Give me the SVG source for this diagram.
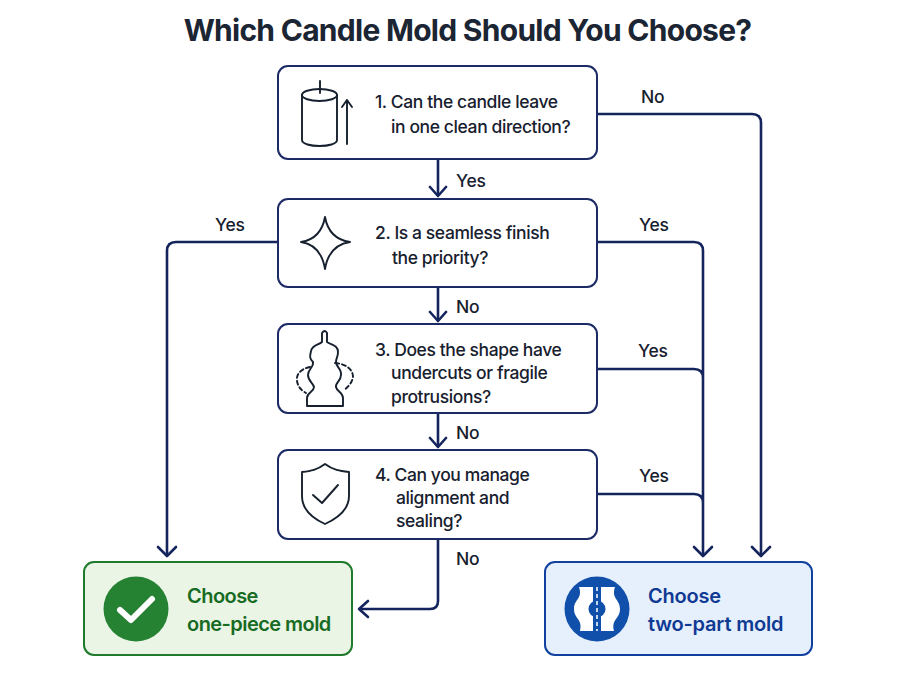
<svg xmlns="http://www.w3.org/2000/svg" width="900" height="675" viewBox="0 0 900 675">
<style>
text{font-family:Inter,"Liberation Sans",sans-serif;font-weight:500;fill:#17202e;font-size:17.500px;letter-spacing:-.4px}
.title{font-size:30px;font-weight:700;fill:#1b2533;letter-spacing:-.72px}
.lab{letter-spacing:-.2px}
.box{fill:#fff;stroke:#1c2a66;stroke-width:2}
.ic{fill:none;stroke:#17202e;stroke-width:1.900;stroke-linejoin:round;stroke-linecap:round}
.wire{fill:none;stroke:#14245c;stroke-width:2.600;stroke-linejoin:round}
.head{fill:none;stroke:#14245c;stroke-width:2.600;stroke-linecap:round;stroke-linejoin:round}
.g{font-size:20px;font-weight:600;fill:#176b22;letter-spacing:-.55px}
.b{font-size:20px;font-weight:600;fill:#0f3a94;letter-spacing:-.2px}
</style>
<rect width="900" height="675" fill="#fff"/>
<text class="title" x="467.500" y="41" text-anchor="middle">Which Candle Mold Should You Choose?</text>
<g id="connectors">
<path class="wire" d="M438 159V195M438 287V320M438 414V446"/>
<path class="head" d="M430 187L438 196L446 187M430 312L438 321L446 312M430 438L438 447L446 438"/>
<path class="wire" d="M598 114H752Q761 114 761 123V555"/>
<path class="head" d="M752 547L761 556L770 547"/>
<path class="wire" d="M598 242H694Q703 242 703 251V555M598 369H694Q703 369 703 378M598 494H694Q703 494 703 503"/>
<path class="head" d="M694 547L703 556L712 547"/>
<path class="wire" d="M277 242H176Q167 242 167 251V555"/>
<path class="head" d="M158 547L167 556L176 547"/>
<path class="wire" d="M438 540V601Q438 609 430 609H360"/>
<path class="head" d="M368 601L359 609L368 617"/>
</g>
<g id="edge-labels">
<text class="lab" x="456" y="187">Yes</text><text class="lab" x="456" y="312.500">No</text><text class="lab" x="456" y="438.500">No</text><text class="lab" x="456" y="564.500">No</text>
<text class="lab" x="641" y="103">No</text><text class="lab" x="215" y="231">Yes</text><text class="lab" x="639" y="231">Yes</text><text class="lab" x="638" y="357">Yes</text><text class="lab" x="639" y="482">Yes</text>
</g>
<g id="node1"><rect class="box" x="278" y="66" width="319" height="93" rx="10"/>
<path class="ic" d="M302 95V140C302 148 337 148 337 140V95M320 81V93M347 144V100M342 107L347 100L352 107"/><ellipse class="ic" cx="319.500" cy="95" rx="17.500" ry="6"/>
<text x="375" y="108">1. Can the candle leave</text><text x="391" y="133">in one clean direction?</text></g>
<g id="node2"><rect class="box" x="278" y="199" width="319" height="88" rx="10"/>
<path class="ic" d="M325 217Q329 239 350 242Q329 245 325 269Q321 245 301 242Q321 239 325 217Z"/>
<text x="375" y="239">2. Is a seamless finish</text><text x="392" y="264">the priority?</text></g>
<g id="node3"><rect class="box" x="278" y="324" width="319" height="89" rx="10"/>
<path class="ic" d="M307 406V398C307 392 314 392 314 387C313 383 308 381 308 375C308 369 314 367 313 362C309 358 310 356 311 351C312 345 319 345 322 342V333Q325 329 327 333V342C331 345 338 345 338 352C338 357 336 358 336 362C336 367 342 369 341 375C341 381 335 383 336 387C337 392 343 392 343 398V406Z"/>
<path class="ic" stroke-dasharray="4 3" d="M310 367C300 369 296 375 297 381C298 387 301 390 306 393M335 363C347 364 353 370 353 377C352 383 348 387 344 390"/>
<text x="375" y="356">3. Does the shape have</text><text x="391" y="379">undercuts or fragile</text><text x="391" y="403">protrusions?</text></g>
<g id="node4"><rect class="box" x="278" y="450" width="319" height="89" rx="10"/>
<path class="ic" d="M325 464C317 470 311 471 302 472V496C302 510 314 519 325 524C336 519 349 510 349 496V472C340 471 333 470 325 464Z"/><path class="ic" d="M313 495L322 503L338 485"/>
<text x="375" y="481">4. Can you manage</text><text x="396" y="504">alignment and</text><text x="396" y="527">sealing?</text></g>
<g id="one-piece"><rect x="84" y="562" width="268" height="93" rx="10" fill="#eaf5e6" stroke="#1f7a2b" stroke-width="2"/>
<circle cx="136" cy="609" r="32.500" fill="#258232"/><path d="M120 610L131 620L152 599" fill="none" stroke="#fff" stroke-width="6" stroke-linecap="round" stroke-linejoin="round"/>
<text class="g" x="187" y="602.500">Choose</text><text class="g" x="187" y="630.500">one-piece mold</text></g>
<g id="two-part"><rect x="545" y="562" width="267" height="93" rx="10" fill="#e6effc" stroke="#11419f" stroke-width="2"/>
<circle cx="597" cy="609" r="32.500" fill="#1150aa"/>
<path fill="#fff" d="M579 587H593V631H580C583 619 574 619 574 609C574 599 583 599 579 587ZM601 587H615C611 599 620 599 620 609C620 619 611 619 614 631H601Z"/>
<circle cx="597" cy="609" r="8.500" fill="#1150aa"/>
<path d="M597 587V631" fill="none" stroke="#fff" stroke-width="1.500" stroke-dasharray="4 3"/>
<text class="b" x="648" y="602.500">Choose</text><text class="b" x="648" y="630.500">two-part mold</text></g>
</svg>
